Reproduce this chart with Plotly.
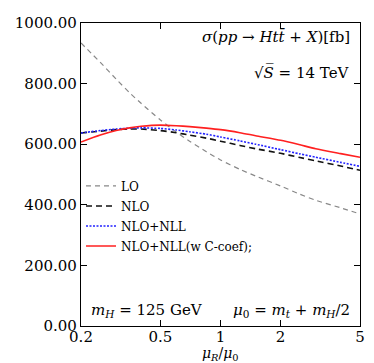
import plotly.graph_objects as go

mu = [0.2, 0.25, 0.3, 0.35, 0.4, 0.5, 0.6, 0.7, 0.85, 1.0, 1.25, 1.5, 2.0, 2.5, 3.0, 4.0, 5.0]
lo = [934, 870, 815, 770, 735, 680, 640, 610, 575, 548, 517, 495, 462, 435, 415, 390, 370]
nlo = [637, 643, 648, 650, 650, 645, 638, 630, 620, 610, 596, 585, 570, 556, 545, 528, 514]
nlo_nll = [637, 645, 650, 653, 654, 652, 647, 641, 633, 624, 611, 600, 582, 568, 557, 540, 527]
nlo_nll_c = [607, 630, 645, 654, 659, 663, 661, 658, 653, 648, 638, 628, 613, 598, 585, 569, 557]

names = ["LO", "NLO", "NLO+NLL", "NLO+NLL(w C-coef);"]
series = [lo, nlo, nlo_nll, nlo_nll_c]
styles = [
    dict(color="#888888", width=1.2, dash="5px,4px"),
    dict(color="#111111", width=1.6, dash="6px,4px"),
    dict(color="#2222ff", width=1.6, dash="2px,1.5px"),
    dict(color="#ff2020", width=1.6, dash="solid"),
]

fig = go.Figure()
for i, (n, s, st) in enumerate(zip(names, series, styles)):
    fig.add_trace(go.Scatter(x=mu, y=s, mode="lines", name=n, legendgroup=str(i),
                             line=dict(shape="spline", smoothing=0.6, **st)))

F = "DejaVu Serif, Liberation Serif, serif"
fig.update_layout(
    width=374, height=363,
    margin=dict(l=73, r=22, t=15, b=45, autoexpand=False),
    paper_bgcolor="white", plot_bgcolor="white",
    font=dict(family=F, size=15, color="black"),
    showlegend=True,
    legend=dict(x=0.0, y=0.51, xanchor="left", yanchor="top",
                bgcolor="rgba(0,0,0,0)", font=dict(family=F, size=12),
                tracegroupgap=1, itemwidth=30),
    xaxis=dict(type="log", range=[-0.69897, 0.69897],
               tickvals=[0.2, 0.5, 1, 2, 5], ticktext=["0.2", "0.5", "1", "2", "5"],
               ticks="inside", ticklen=6, tickcolor="black", mirror="ticks",
               showline=True, linecolor="black", linewidth=1.3, showgrid=False,
               zeroline=False, tickfont=dict(family=F, size=15), ticklabelstandoff=-3),
    yaxis=dict(range=[0, 1000], tickvals=[0, 200, 400, 600, 800, 1000],
               ticktext=["0.00", "200.00", "400.00", "600.00", "800.00", "1000.00"],
               ticks="inside", ticklen=6, tickcolor="black", mirror="ticks",
               showline=True, linecolor="black", linewidth=1.3, showgrid=False,
               zeroline=False, tickfont=dict(family=F, size=15)),
)

ann = [
    (0.97, 0.955, "right", "middle", 15, "<i>σ</i>(<i>pp</i> → <i>Ht</i><i>t\u0304</i> + <i>X</i>)[fb]"),
    (0.97, 0.835, "right", "middle", 15, "√<i>S\u0305</i> = 14 TeV"),
    (0.03, 0.05, "left", "middle", 15, "<i>m</i><sub><i>H</i></sub> = 125 GeV"),
    (0.97, 0.05, "right", "middle", 15, "<i>μ</i><sub>0</sub> = <i>m</i><sub><i>t</i></sub> + <i>m</i><sub><i>H</i></sub>/2"),
    (0.5, -0.128, "center", "bottom", 14, "<i>μ</i><sub><i>R</i></sub>/<i>μ</i><sub>0</sub>"),
]
for x, y, xa, ya, sz, t in ann:
    fig.add_annotation(x=x, y=y, xref="paper", yref="paper", xanchor=xa, yanchor=ya,
                       text=t, showarrow=False, font=dict(family=F, size=sz))

fig.write_html("out.html")
